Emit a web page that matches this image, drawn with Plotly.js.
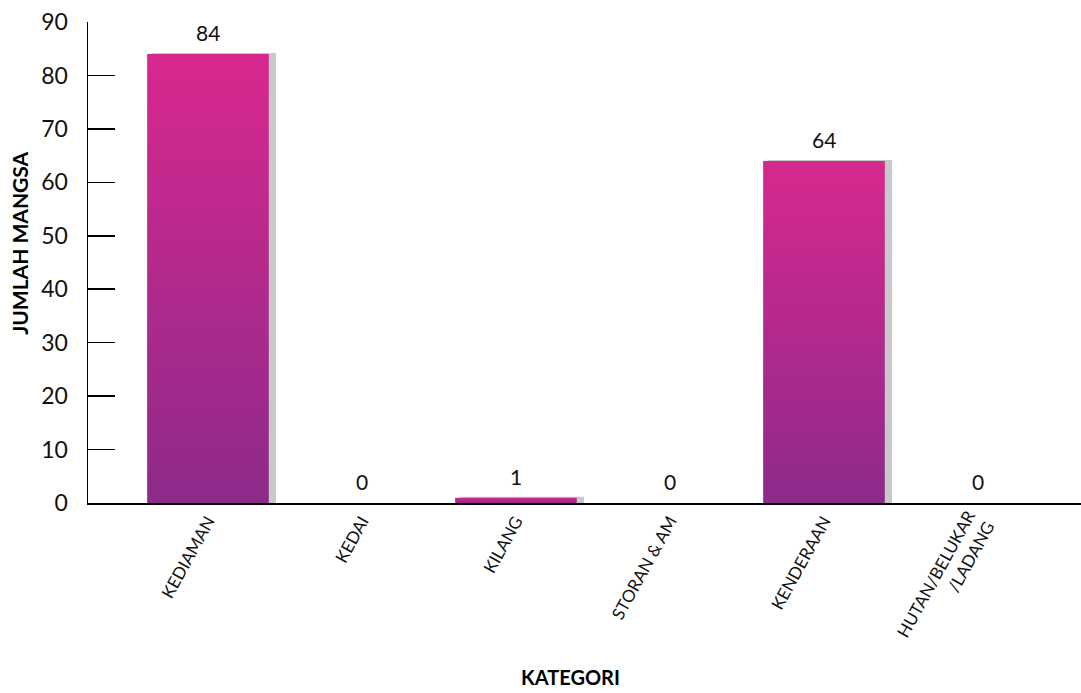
<!DOCTYPE html>
<html>
<head>
<meta charset="utf-8">
<script src="https://cdn.plot.ly/plotly-3.0.1.min.js"></script>
<style>html,body{margin:0;padding:0;background:#fff;}#chart{width:1081px;height:693px;}</style>
</head>
<body>
<div id="chart"></div>
<script>
const categories = ["KEDIAMAN", "KEDAI", "KILANG", "STORAN & AM", "KENDERAAN", "HUTAN/BELUKAR<br>/LADANG"];
const values = [84, 0, 1, 0, 64, 0];
const yTicks = [0, 10, 20, 30, 40, 50, 60, 70, 80, 90];

const FONT = "Lato, 'Open Sans', sans-serif";
const barWidth = 0.79;

const shadow = {
  type: "bar", x: categories, y: values,
  width: barWidth, offset: -barWidth / 2 + 0.04,
  marker: { color: "#c9c9cb", line: { color: "#c9c9cb", width: values.map(v => v > 0 ? 2 : 0) } },
  hoverinfo: "skip", textposition: "none", showlegend: false
};
const main = {
  type: "bar", x: categories, y: values,
  width: barWidth, offset: -barWidth / 2,
  marker: { color: "#b92a8d", line: { width: 0 } },
  textposition: "none",
  showlegend: false
};

const labelAnnotations = categories.map((c, i) => ({
  x: c, y: values[i], xref: "x", yref: "y",
  text: String(values[i]), showarrow: false,
  yanchor: "bottom", yshift: 7,
  font: { family: FONT, size: 21, color: "#111" }
}));

const layout = {
  width: 1081, height: 693,
  margin: { l: 88, r: 0, t: 22, b: 190 },
  paper_bgcolor: "#fff", plot_bgcolor: "#fff",
  barmode: "overlay",
  font: { family: FONT, color: "#111" },
  xaxis: {
    type: "category", range: [-0.779, 5.669],
    showline: true, linecolor: "#000", linewidth: 1.5,
    ticks: "", showgrid: false, zeroline: false,
    tickangle: -61, tickfont: { family: FONT, size: 17, color: "#111" }
  },
  yaxis: {
    range: [0, 90], tickvals: yTicks, ticktext: yTicks.map(String),
    showline: true, linecolor: "#000", linewidth: 1.5,
    ticks: "inside", ticklen: 27, tickcolor: "#000", tickwidth: 1.5,
    ticklabelstandoff: 14,
    showgrid: false, zeroline: false,
    tickfont: { family: FONT, size: 23, color: "#111" }
  },
  annotations: labelAnnotations.concat([{
    xref: "paper", yref: "paper", x: -0.069, y: 0.54,
    xanchor: "center", yanchor: "middle", textangle: -90,
    text: "<b>JUMLAH MANGSA</b>", showarrow: false,
    font: { family: FONT, size: 21, color: "#000" }
  }, {
    xref: "paper", yref: "paper", x: 0.486, y: -0.362,
    xanchor: "center", yanchor: "middle", borderpad: 0,
    text: "<b>KATEGORI</b>", showarrow: false,
    font: { family: FONT, size: 20, color: "#000" }
  }])
};

function applyGradient(gd) {
  const svg = gd.querySelector("svg.main-svg");
  if (!svg) return;
  let defs = svg.querySelector("defs");
  if (!defs) { defs = document.createElementNS("http://www.w3.org/2000/svg", "defs"); svg.insertBefore(defs, svg.firstChild); }
  if (!svg.querySelector("#barGrad")) {
    const g = document.createElementNS("http://www.w3.org/2000/svg", "linearGradient");
    g.setAttribute("id", "barGrad");
    g.setAttribute("x1", "0"); g.setAttribute("y1", "0"); g.setAttribute("x2", "0"); g.setAttribute("y2", "1");
    const s1 = document.createElementNS("http://www.w3.org/2000/svg", "stop");
    s1.setAttribute("offset", "0"); s1.setAttribute("stop-color", "#d8288f");
    const s2 = document.createElementNS("http://www.w3.org/2000/svg", "stop");
    s2.setAttribute("offset", "1"); s2.setAttribute("stop-color", "#8d2a8a");
    g.appendChild(s1); g.appendChild(s2); defs.appendChild(g);
  }
  const traces = gd.querySelectorAll("g.trace.bars");
  if (traces.length > 1) {
    traces[1].querySelectorAll("g.point path").forEach(p => { p.style.fill = "url(#barGrad)"; });
  }
}

const gd = document.getElementById("chart");
Plotly.newPlot(gd, [shadow, main], layout, { displayModeBar: false, staticPlot: true }).then(() => {
  applyGradient(gd);
  gd.on("plotly_afterplot", () => applyGradient(gd));
});
</script>
</body>
</html>
